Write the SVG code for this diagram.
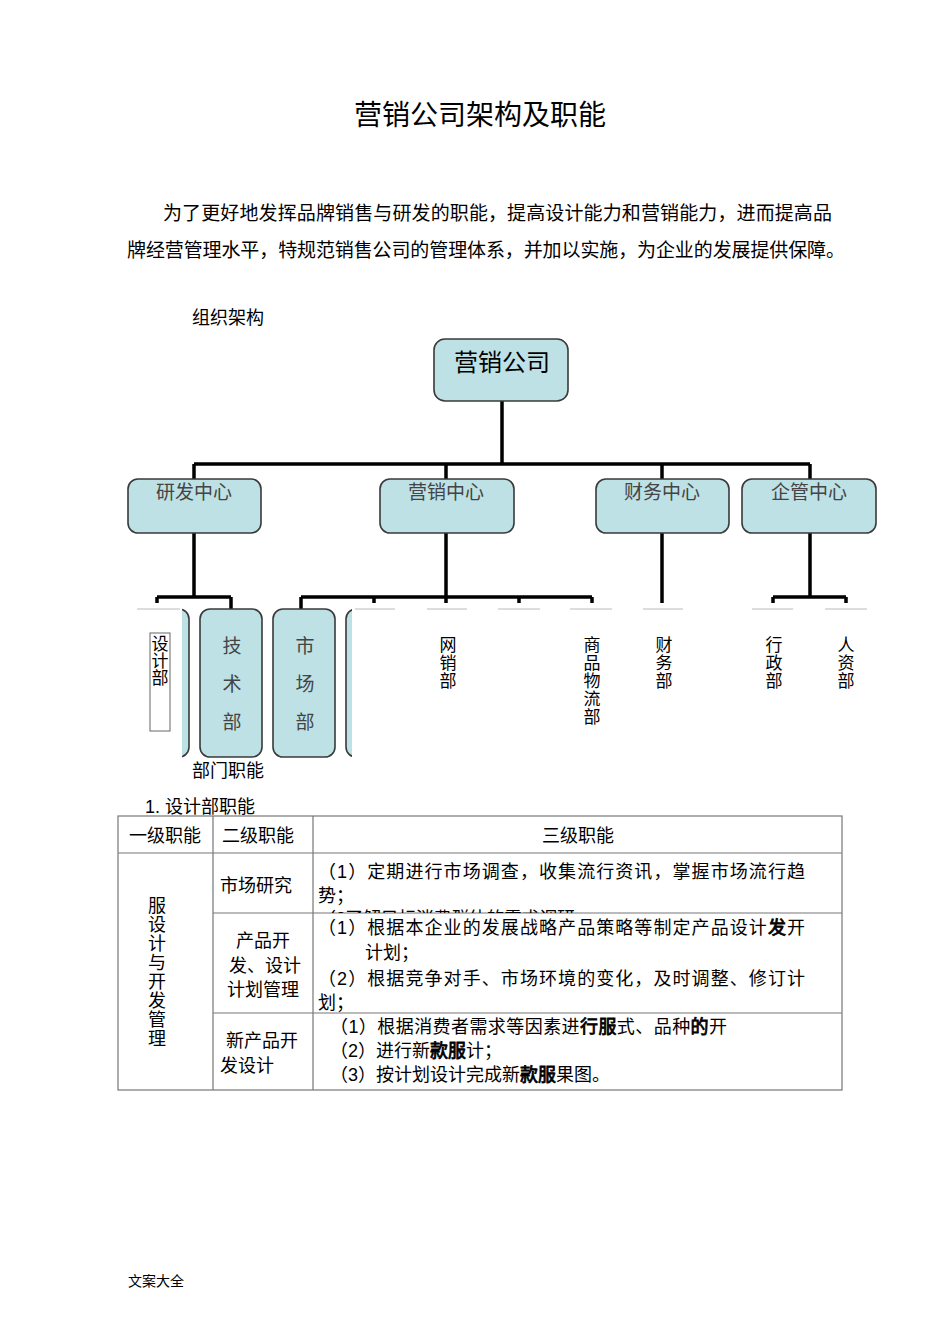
<svg xmlns="http://www.w3.org/2000/svg" width="950" height="1344" viewBox="0 0 950 1344">
<style>
text{font-family:"Liberation Sans","Noto Sans CJK SC",sans-serif;fill:#000}
.t19{font-size:19px}
.t18{font-size:18px}
.box{fill:#bde1e4;stroke:#3a3a3a;stroke-width:1.6}
.bt{font-size:19px;fill:#444;text-anchor:middle}
.vt{font-size:17px;text-anchor:middle}
.con{stroke:#000;stroke-width:3.5;fill:none}
.gl{stroke:#bbb;stroke-width:1.2}
.tb{stroke:#777;stroke-width:1.2;fill:none}
.g{stroke:#000;stroke-width:0.8}
</style>
<defs>
<clipPath id="c1"><rect x="314" y="854" width="527" height="59"/></clipPath>
</defs>
<rect width="950" height="1344" fill="#fff"/>
<text x="480" y="125" font-size="28" text-anchor="middle">营销公司架构及职能</text>
<text class="t19" x="163" y="220" textLength="669">为了更好地发挥品牌销售与研发的职能，提高设计能力和营销能力，进而提高品</text>
<text class="t19" x="127" y="257" textLength="718">牌经营管理水平，特规范销售公司的管理体系，并加以实施，为企业的发展提供保障。</text>
<text class="t18" x="192" y="324">组织架构</text>

<g id="connectors">
<path class="con" d="M502 401V464M194 464H810M194 464V479M446 464V479M662 464V479M810 464V479"/>
<path class="con" d="M194 533V597M157 597H231M157 597V609M231 597V609"/>
<path class="con" d="M446 533V597M301 597H592M301 597V609M374 597V609M446 597V609M519 597V609M592 597V609"/>
<path class="con" d="M662 533V609"/>
<path class="con" d="M810 533V597M773 597H846M773 597V609M846 597V609"/>
</g>

<g id="n-top"><rect class="box" x="434" y="339" width="134" height="62" rx="11"/><text x="502" y="371" font-size="24" fill="#333" text-anchor="middle">营销公司</text></g>
<g id="n-yf"><rect class="box" x="128" y="479" width="133" height="54" rx="10"/><text class="bt" x="194" y="499">研发中心</text></g>
<g id="n-yx"><rect class="box" x="380" y="479" width="134" height="54" rx="10"/><text class="bt" x="446" y="499">营销中心</text></g>
<g id="n-cw"><rect class="box" x="596" y="479" width="133" height="54" rx="10"/><text class="bt" x="662" y="499">财务中心</text></g>
<g id="n-qg"><rect class="box" x="742" y="479" width="134" height="54" rx="10"/><text class="bt" x="809" y="499">企管中心</text></g>

<g id="n-hidden1"><rect class="box" x="127" y="609" width="62" height="148" rx="10"/></g>
<rect x="118" y="603" width="64" height="158" fill="#fff"/>
<g id="n-js"><rect class="box" x="200" y="609" width="62" height="148" rx="10"/><text class="bt" x="232" y="653">技</text><text class="bt" x="232" y="691">术</text><text class="bt" x="232" y="729">部</text></g>
<g id="n-sc"><rect class="box" x="273" y="609" width="62" height="148" rx="10"/><text class="bt" x="305" y="653">市</text><text class="bt" x="305" y="691">场</text><text class="bt" x="305" y="729">部</text></g>
<g id="n-hidden2"><rect class="box" x="346" y="609" width="62" height="148" rx="10"/></g>
<rect x="352" y="603" width="540" height="158" fill="#fff"/>

<g id="graylines">
<path class="gl" d="M137 609H180M355 609H395M427 609H467M498 609H540M570 609H612M643 609H683M752 609H793M825 609H867"/>
</g>

<g id="n-sj"><rect x="150" y="633" width="20" height="98" fill="#fff" stroke="#666" stroke-width="1"/><text class="vt" x="160" y="650">设</text><text class="vt" x="160" y="667">计</text><text class="vt" x="160" y="684">部</text></g>
<g id="n-wx"><text class="vt" x="448" y="651">网</text><text class="vt" x="448" y="669">销</text><text class="vt" x="448" y="687">部</text></g>
<g id="n-sp"><text class="vt" x="592" y="651">商</text><text class="vt" x="592" y="669">品</text><text class="vt" x="592" y="687">物</text><text class="vt" x="592" y="705">流</text><text class="vt" x="592" y="723">部</text></g>
<g id="n-cwb"><text class="vt" x="664" y="651">财</text><text class="vt" x="664" y="669">务</text><text class="vt" x="664" y="687">部</text></g>
<g id="n-xz"><text class="vt" x="774" y="651">行</text><text class="vt" x="774" y="669">政</text><text class="vt" x="774" y="687">部</text></g>
<g id="n-rz"><text class="vt" x="846" y="651">人</text><text class="vt" x="846" y="669">资</text><text class="vt" x="846" y="687">部</text></g>

<text class="t18" x="192" y="777">部门职能</text>
<text class="t18" x="145" y="813">1. 设计部职能</text>

<g id="table">
<rect class="tb" x="118" y="816" width="724" height="274"/>
<path class="tb" d="M118 853H842M213 913H842M213 1013H842M213 816V1090M313 816V1090"/>
<text class="t18" x="165" y="842" text-anchor="middle">一级职能</text>
<text class="t18" x="258" y="842" text-anchor="middle">二级职能</text>
<text class="t18" x="578" y="842" text-anchor="middle">三级职能</text>
<g font-size="18">
<text x="157" y="912" text-anchor="middle">服</text><text x="157" y="931" text-anchor="middle">设</text><text x="157" y="950" text-anchor="middle">计</text><text x="157" y="969" text-anchor="middle">与</text><text x="157" y="988" text-anchor="middle">开</text><text x="157" y="1007" text-anchor="middle">发</text><text x="157" y="1026" text-anchor="middle">管</text><text x="157" y="1045" text-anchor="middle">理</text>
</g>
<text class="t18" x="220" y="892">市场研究</text>
<text class="t18" x="263" y="947" text-anchor="middle">产品开</text>
<text class="t18" x="265" y="972" text-anchor="middle">发、设计</text>
<text class="t18" x="263" y="996" text-anchor="middle">计划管理</text>
<text class="t18" x="226" y="1047">新产品开</text>
<text class="t18" x="220" y="1072">发设计</text>

<text class="t18" x="318" y="878" textLength="487">（1）定期进行市场调查，收集流行资讯，掌握市场流行趋</text>
<text class="t18" x="318" y="902">势；</text>
<g clip-path="url(#c1)"><text class="t18" x="318" y="925" textLength="257">（2了解目标消费群体的需求调研</text></g>
<text class="t18" x="318" y="934" textLength="487">（1）根据本企业的发展战略产品策略等制定产品设计<tspan class="g">发</tspan>开</text>
<text class="t18" x="365" y="959">计划；</text>
<text class="t18" x="318" y="985" textLength="487">（2）根据竞争对手、市场环境的变化，及时调整、修订计</text>
<text class="t18" x="318" y="1009">划；</text>
<text class="t18" x="330" y="1033" textLength="397">（1）根据消费者需求等因素进<tspan class="g">行服</tspan>式、品种<tspan class="g">的</tspan>开</text>
<text class="t18" x="330" y="1057">（2）进行新<tspan class="g">款服</tspan>计；</text>
<text class="t18" x="330" y="1081">（3）按计划设计完成新<tspan class="g">款服</tspan>果图。</text>
</g>
<text x="128" y="1286" font-size="14" fill="#555">文案大全</text>
</svg>
